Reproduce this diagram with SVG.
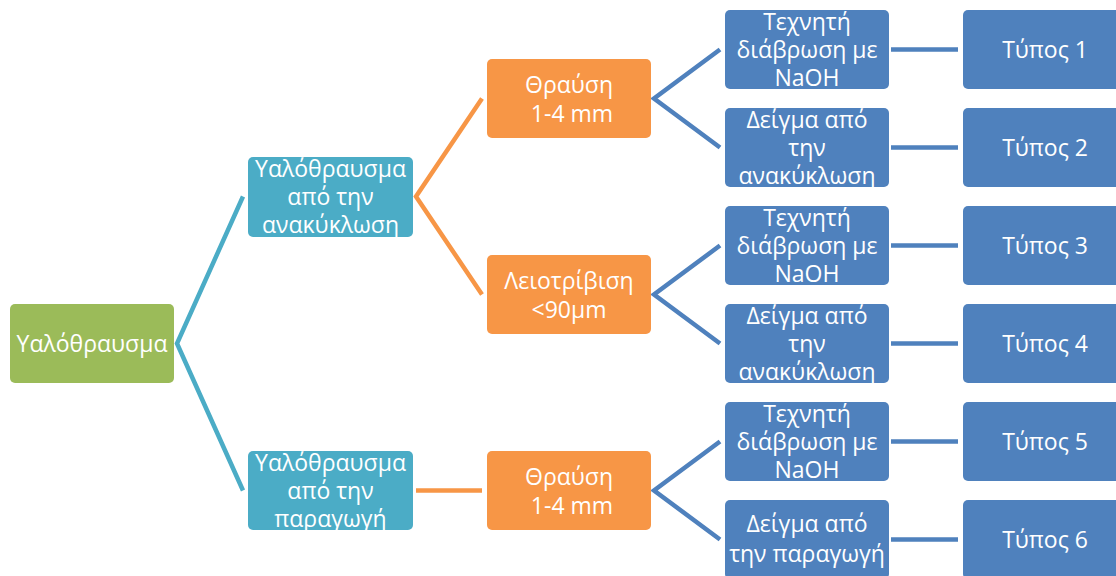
<svg xmlns="http://www.w3.org/2000/svg" width="1116" height="576" viewBox="0 0 1116 576">
<style>
.t{font-family:"Open Sans","Noto Sans",sans-serif;font-size:23px;fill:#fff;text-anchor:middle}
.c{fill:none;stroke-width:4.5;stroke-linejoin:miter}
.g{fill:#9BBB59}.tl{fill:#4BACC6}.o{fill:#F79646}.b{fill:#4F81BD}
</style>
<rect width="1116" height="576" fill="#fff"/>
<g id="connectors">
<path class="c" stroke="#4BACC6" d="M243,196.5 L177,343.5 L243,490.5"/>
<path class="c" stroke="#F79646" d="M482,98.5 L416,196.5 L482,294.5"/>
<path class="c" stroke="#F79646" d="M416,490.5 L482,490.5"/>
<path class="c" stroke="#4F81BD" d="M720,49.5 L654,98.5 L720,147.5"/>
<path class="c" stroke="#4F81BD" d="M720,245.5 L654,294.5 L720,343.5"/>
<path class="c" stroke="#4F81BD" d="M720,441.5 L654,490.5 L720,539.5"/>
<path class="c" stroke="#4F81BD" d="M891,49.5H958M891,147.5H958M891,245.5H958M891,343.5H958M891,441.5H958M891,539.5H958"/>
</g>
<g id="root"><rect class="g" x="10" y="304" width="164" height="79" rx="5"/><text class="t" x="92" y="351.5">Υαλόθραυσμα</text></g>
<g id="recycling"><rect class="tl" x="248" y="157" width="165" height="80" rx="5"/><text class="t" x="330.5" y="177">Υαλόθραυσμα</text><text class="t" x="330.5" y="205">από την</text><text class="t" x="330.5" y="233">ανακύκλωση</text></g>
<g id="production"><rect class="tl" x="248" y="451" width="165" height="79" rx="5"/><text class="t" x="330.5" y="471">Υαλόθραυσμα</text><text class="t" x="330.5" y="499">από την</text><text class="t" x="330.5" y="527">παραγωγή</text></g>
<g id="crush1"><rect class="o" x="487" y="59" width="164" height="79" rx="5"/><text class="t" x="569" y="92.5">Θραύση</text><text class="t" x="572" y="121.5">1-4 mm</text></g>
<g id="grind"><rect class="o" x="487" y="255" width="164" height="79" rx="5"/><text class="t" x="569" y="288.5">Λειοτρίβιση</text><text class="t" x="569" y="317.5">&lt;90μm</text></g>
<g id="crush2"><rect class="o" x="487" y="451" width="164" height="79" rx="5"/><text class="t" x="569" y="484.5">Θραύση</text><text class="t" x="572" y="513.5">1-4 mm</text></g>
<g id="naoh1"><rect class="b" x="725" y="10" width="164" height="79" rx="5"/><text class="t" x="807" y="30">Τεχνητή</text><text class="t" x="807" y="58">διάβρωση με</text><text class="t" x="807" y="86">NaOH</text></g>
<g id="sample1"><rect class="b" x="725" y="108" width="164" height="79" rx="5"/><text class="t" x="807" y="128">Δείγμα από</text><text class="t" x="807" y="156">την</text><text class="t" x="807" y="184">ανακύκλωση</text></g>
<g id="naoh2"><rect class="b" x="725" y="206" width="164" height="79" rx="5"/><text class="t" x="807" y="226">Τεχνητή</text><text class="t" x="807" y="254">διάβρωση με</text><text class="t" x="807" y="282">NaOH</text></g>
<g id="sample2"><rect class="b" x="725" y="304" width="164" height="79" rx="5"/><text class="t" x="807" y="324">Δείγμα από</text><text class="t" x="807" y="352">την</text><text class="t" x="807" y="380">ανακύκλωση</text></g>
<g id="naoh3"><rect class="b" x="725" y="402" width="164" height="79" rx="5"/><text class="t" x="807" y="422">Τεχνητή</text><text class="t" x="807" y="450">διάβρωση με</text><text class="t" x="807" y="478">NaOH</text></g>
<g id="sample3"><rect class="b" x="725" y="500" width="164" height="79" rx="5"/><text class="t" x="807" y="532">Δείγμα από</text><text class="t" x="807" y="562">την παραγωγή</text></g>
<g id="type1"><rect class="b" x="963" y="10" width="164" height="79" rx="5"/><text class="t" x="1045" y="57.5">Τύπος 1</text></g>
<g id="type2"><rect class="b" x="963" y="108" width="164" height="79" rx="5"/><text class="t" x="1045" y="155.5">Τύπος 2</text></g>
<g id="type3"><rect class="b" x="963" y="206" width="164" height="79" rx="5"/><text class="t" x="1045" y="253.5">Τύπος 3</text></g>
<g id="type4"><rect class="b" x="963" y="304" width="164" height="79" rx="5"/><text class="t" x="1045" y="351.5">Τύπος 4</text></g>
<g id="type5"><rect class="b" x="963" y="402" width="164" height="79" rx="5"/><text class="t" x="1045" y="449.5">Τύπος 5</text></g>
<g id="type6"><rect class="b" x="963" y="500" width="164" height="79" rx="5"/><text class="t" x="1045" y="547.5">Τύπος 6</text></g>
</svg>
